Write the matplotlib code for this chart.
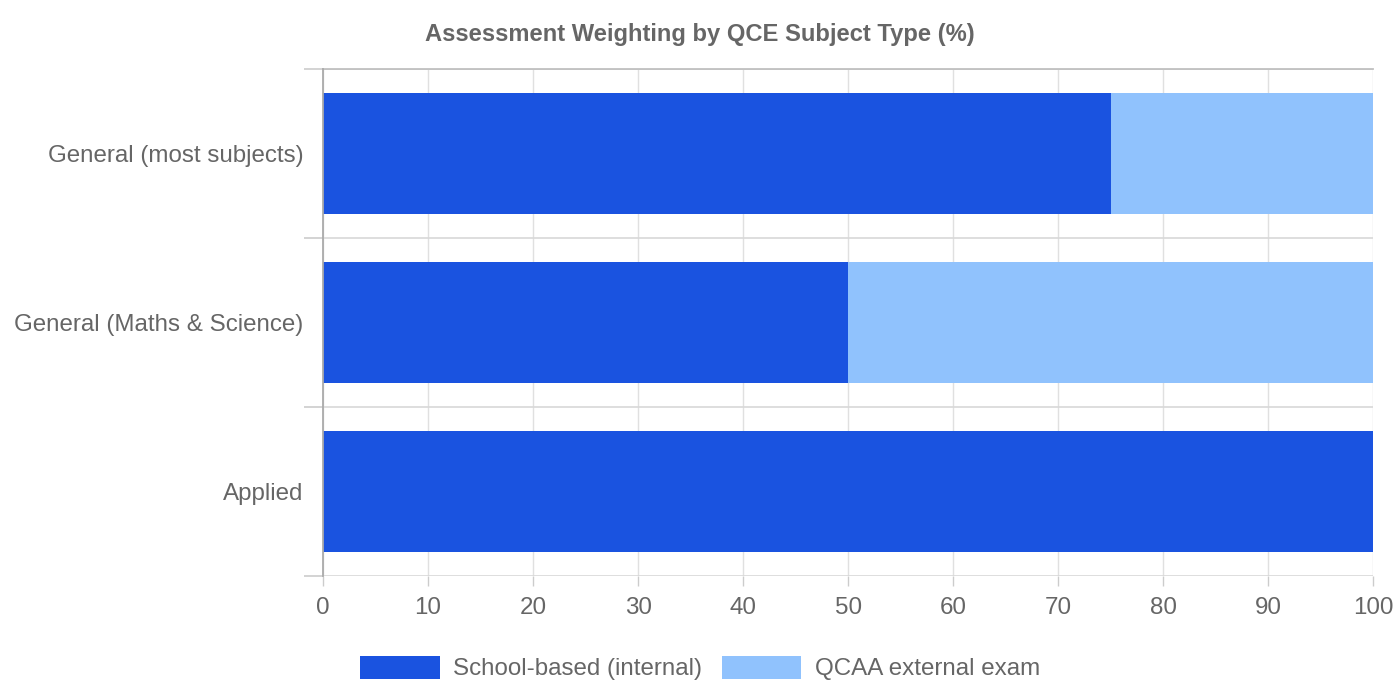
import matplotlib
matplotlib.use("Agg")
import matplotlib.pyplot as plt
import numpy as np

categories = ["General (most subjects)", "General (Maths & Science)", "Applied"]
internal = [75, 50, 100]
external = [25, 50, 0]
series_names = ["School-based (internal)", "QCAA external exam"]
xticks = [0, 10, 20, 30, 40, 50, 60, 70, 80, 90, 100]

plt.rcParams['font.family'] = ['Liberation Sans', 'DejaVu Sans']

W, H = 1400, 700
fig = plt.figure(figsize=(14, 7), dpi=100)
ax = fig.add_axes([323 / W, 1 - 576 / H, 1050 / W, 507 / H])

c_int = "#1a53e0"
c_ext = "#90c2fd"
y = np.arange(len(categories))
bh = 0.715
ax.barh(y, internal, height=bh, color=c_int, label=series_names[0], zorder=3)
ax.barh(y, external, left=internal, height=bh, color=c_ext, label=series_names[1], zorder=3)

ax.set_xlim(0, 100)
ax.set_ylim(len(categories) - 0.5, -0.5)
ax.set_xticks(xticks)
ax.set_xticklabels([str(t) for t in xticks])
ax.set_yticks(y)
ax.set_yticklabels(categories)
ax.set_yticks(np.arange(len(categories) + 1) - 0.5, minor=True)

for s in ["right", "bottom"]:
    ax.spines[s].set_visible(False)
ax.spines["top"].set_color("#c0c0c0")
ax.spines["top"].set_linewidth(1.3)
ax.spines["left"].set_color("#aaaaaa")
ax.spines["left"].set_linewidth(1.3)
ax.spines["left"].set_zorder(4)

ax.grid(axis="x", which="major", color="#e0e0e0", linewidth=1, zorder=0)
ax.grid(axis="y", which="minor", color="#d8d8d8", linewidth=1.2, zorder=0)
ax.tick_params(axis="x", which="major", length=7, color="#cccccc", width=1,
               labelsize=17.4, labelcolor="#666666", pad=8)
ax.tick_params(axis="y", which="major", length=0, labelsize=17.4,
               labelcolor="#666666", pad=14)
ax.tick_params(axis="y", which="minor", length=14, color="#cccccc", width=1.2)

fig.text(700 / W, 1 - 34 / H, "Assessment Weighting by QCE Subject Type (%)",
         ha="center", va="center", fontsize=17.1, fontweight="bold", color="#666666")

leg = fig.legend(loc="center", bbox_to_anchor=(700 / W, 1 - 668 / H), ncol=2,
                 frameon=False, fontsize=17.4, handlelength=3.3, handleheight=1.1,
                 columnspacing=0.8, handletextpad=0.55)
for t in leg.get_texts():
    t.set_color("#666666")

fig.savefig("out.png", dpi=100)
